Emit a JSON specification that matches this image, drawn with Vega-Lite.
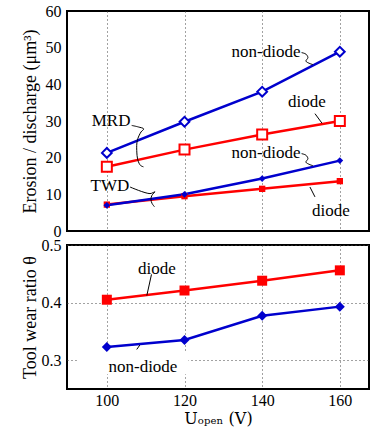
{
  "$schema": "https://vega.github.io/schema/vega-lite/v6.json",
  "background": "white",
  "padding": {"left": 19, "top": 2, "right": 0, "bottom": 0},
  "spacing": 14,
  "bounds": "flush",
  "resolve": {"scale": {"color": "independent"}},
  "config": {
    "font": "Times New Roman",
    "view": {"stroke": "black", "strokeWidth": 2},
    "text": {"font": "Times New Roman"},
    "axis": {
      "labelFont": "Times New Roman", "labelFontSize": 16, "labelColor": "black", "labelOverlap": false,
      "titleFont": "Times New Roman", "titleFontSize": 18, "titleFontWeight": "normal", "titleColor": "black",
      "ticks": false, "domain": false,
      "gridColor": "#444", "gridDash": [1, 3], "gridWidth": 1, "gridOpacity": 1
    }
  },
  "datasets": {
    "top": [
      {"U": 100, "value": 21.3, "series": "MRD non-diode"},
      {"U": 120, "value": 29.8, "series": "MRD non-diode"},
      {"U": 140, "value": 38.0, "series": "MRD non-diode"},
      {"U": 160, "value": 48.9, "series": "MRD non-diode"},
      {"U": 100, "value": 17.5, "series": "MRD diode"},
      {"U": 120, "value": 22.2, "series": "MRD diode"},
      {"U": 140, "value": 26.3, "series": "MRD diode"},
      {"U": 160, "value": 30.0, "series": "MRD diode"},
      {"U": 100, "value": 7.2, "series": "TWD diode"},
      {"U": 120, "value": 9.5, "series": "TWD diode"},
      {"U": 140, "value": 11.5, "series": "TWD diode"},
      {"U": 160, "value": 13.6, "series": "TWD diode"},
      {"U": 100, "value": 7.0, "series": "TWD non-diode"},
      {"U": 120, "value": 10.0, "series": "TWD non-diode"},
      {"U": 140, "value": 14.3, "series": "TWD non-diode"},
      {"U": 160, "value": 19.2, "series": "TWD non-diode"}
    ],
    "bottom": [
      {"U": 100, "theta": 0.405, "series": "diode"},
      {"U": 120, "theta": 0.421, "series": "diode"},
      {"U": 140, "theta": 0.438, "series": "diode"},
      {"U": 160, "theta": 0.456, "series": "diode"},
      {"U": 100, "theta": 0.323, "series": "non-diode"},
      {"U": 120, "theta": 0.335, "series": "non-diode"},
      {"U": 140, "theta": 0.377, "series": "non-diode"},
      {"U": 160, "theta": 0.393, "series": "non-diode"}
    ],
    "topLabels": [
      {"x": 141, "y": 48.7, "label": "non-diode"},
      {"x": 151.5, "y": 35.3, "label": "diode"},
      {"x": 141, "y": 21.4, "label": "non-diode"},
      {"x": 157.7, "y": 5.5, "label": "diode"},
      {"x": 101.1, "y": 30.1, "label": "MRD"},
      {"x": 100.8, "y": 12.3, "label": "TWD"}
    ],
    "topLeaders": [
      {"id": "A", "i": 0, "x": 150.15, "y": 48.65},
      {"id": "A", "i": 1, "x": 151.26, "y": 48.24},
      {"id": "A", "i": 2, "x": 151.78, "y": 47.29},
      {"id": "A", "i": 3, "x": 151.26, "y": 46.34},
      {"id": "A", "i": 4, "x": 152.29, "y": 45.66},
      {"id": "A", "i": 5, "x": 153.06, "y": 45.39},
      {"id": "B", "i": 0, "x": 153.6, "y": 32.0},
      {"id": "B", "i": 1, "x": 155.4, "y": 29.4},
      {"id": "C", "i": 0, "x": 150.15, "y": 21.09},
      {"id": "C", "i": 1, "x": 151.26, "y": 20.68},
      {"id": "C", "i": 2, "x": 151.78, "y": 19.73},
      {"id": "C", "i": 3, "x": 151.26, "y": 18.78},
      {"id": "C", "i": 4, "x": 152.29, "y": 18.10},
      {"id": "C", "i": 5, "x": 153.06, "y": 17.82},
      {"id": "D", "i": 0, "x": 152.3, "y": 12.0},
      {"id": "D", "i": 1, "x": 153.6, "y": 9.3},
      {"id": "E", "i": 0, "x": 106.40, "y": 28.79},
      {"id": "E", "i": 1, "x": 108.10, "y": 28.38},
      {"id": "E", "i": 2, "x": 109.50, "y": 27.84},
      {"id": "E", "i": 3, "x": 108.79, "y": 27.00},
      {"id": "E", "i": 4, "x": 107.85, "y": 24.71},
      {"id": "E", "i": 5, "x": 107.70, "y": 21.99},
      {"id": "E", "i": 6, "x": 108.01, "y": 19.27},
      {"id": "E", "i": 7, "x": 108.66, "y": 17.90},
      {"id": "E", "i": 8, "x": 109.43, "y": 17.50},
      {"id": "F", "i": 0, "x": 105.96, "y": 12.0},
      {"id": "F", "i": 1, "x": 111.11, "y": 10.20},
      {"id": "F", "i": 2, "x": 112.39, "y": 10.69},
      {"id": "F", "i": 3, "x": 111.62, "y": 9.74},
      {"id": "F", "i": 4, "x": 111.36, "y": 8.65},
      {"id": "F", "i": 5, "x": 111.62, "y": 7.56},
      {"id": "F", "i": 6, "x": 112.27, "y": 6.61}
    ],
    "bottomLabels": [
      {"x": 112.9, "y": 0.459, "label": "diode"},
      {"x": 109.3, "y": 0.288, "label": "non-diode"}
    ],
    "bottomLeaders": [
      {"id": "G", "i": 0, "x": 111.5, "y": 0.449},
      {"id": "G", "i": 1, "x": 110.3, "y": 0.4123},
      {"id": "H", "i": 0, "x": 107.7, "y": 0.3187},
      {"id": "H", "i": 1, "x": 108.5, "y": 0.3263}
    ],
    "bottomMask": [
      {"x": 92.3, "x2": 121.0, "y": 0.2756, "y2": 0.314}
    ]
  },
  "vconcat": [
    {
      "width": 302,
      "height": 220,
      "layer": [
        {
          "data": {"name": "top"},
          "mark": {"type": "line", "strokeWidth": 2.5},
          "encoding": {
            "x": {"field": "U", "type": "quantitative", "scale": {"domain": [89.74, 167.51], "nice": false, "zero": false},
                  "axis": {"values": [100, 120, 140, 160], "tickCount": 10, "labels": false, "title": null, "grid": true}},
            "y": {"field": "value", "type": "quantitative", "scale": {"domain": [0, 60], "nice": false},
                  "axis": {"values": [0, 10, 20, 30, 40, 50, 60], "tickCount": 10, "labelOverlap": false, "grid": false, "labelPadding": 6, "minExtent": 26, "maxExtent": 26, "titlePadding": 2,
                           "title": "Erosion / discharge (μm³)"}},
            "color": {"field": "series", "type": "nominal", "legend": null,
                      "scale": {"domain": ["MRD non-diode", "MRD diode", "TWD diode", "TWD non-diode"], "range": ["#0000cd", "#ff0000", "#ff0000", "#0000cd"]}},
            "detail": {"field": "series"},
            "order": {"field": "U"}
          }
        },
        {
          "data": {"name": "top"},
          "transform": [{"filter": "datum.series == 'MRD non-diode'"}],
          "mark": {"type": "point", "shape": "diamond", "size": 95, "filled": false, "fill": "white", "fillOpacity": 1, "stroke": "#0000cd", "strokeWidth": 2, "opacity": 1},
          "encoding": {"x": {"field": "U", "type": "quantitative"}, "y": {"field": "value", "type": "quantitative"}}
        },
        {
          "data": {"name": "top"},
          "transform": [{"filter": "datum.series == 'MRD diode'"}],
          "mark": {"type": "point", "shape": "square", "size": 100, "filled": false, "fill": "white", "fillOpacity": 1, "stroke": "#ff0000", "strokeWidth": 2, "opacity": 1},
          "encoding": {"x": {"field": "U", "type": "quantitative"}, "y": {"field": "value", "type": "quantitative"}}
        },
        {
          "data": {"name": "top"},
          "transform": [{"filter": "datum.series == 'TWD diode'"}],
          "mark": {"type": "point", "shape": "square", "size": 40, "filled": true, "color": "#ff0000", "opacity": 1},
          "encoding": {"x": {"field": "U", "type": "quantitative"}, "y": {"field": "value", "type": "quantitative"}}
        },
        {
          "data": {"name": "top"},
          "transform": [{"filter": "datum.series == 'TWD non-diode'"}],
          "mark": {"type": "point", "shape": "diamond", "size": 45, "filled": true, "color": "#0000cd", "opacity": 1},
          "encoding": {"x": {"field": "U", "type": "quantitative"}, "y": {"field": "value", "type": "quantitative"}}
        },
        {
          "data": {"name": "topLeaders"},
          "mark": {"type": "line", "color": "black", "strokeWidth": 1, "interpolate": "catmull-rom"},
          "encoding": {
            "x": {"field": "x", "type": "quantitative"},
            "y": {"field": "y", "type": "quantitative"},
            "detail": {"field": "id"},
            "order": {"field": "i"}
          }
        },
        {
          "data": {"name": "topLabels"},
          "mark": {"type": "text", "font": "Times New Roman", "fontSize": 17, "color": "black", "align": "center", "baseline": "middle"},
          "encoding": {
            "x": {"field": "x", "type": "quantitative"},
            "y": {"field": "y", "type": "quantitative"},
            "text": {"field": "label"}
          }
        }
      ]
    },
    {
      "width": 302,
      "height": 144,
      "layer": [
        {
          "data": {"name": "bottomMask"},
          "mark": {"type": "rect", "color": "white", "opacity": 1},
          "encoding": {
            "x": {"field": "x", "type": "quantitative"},
            "x2": {"field": "x2"},
            "y": {"field": "y", "type": "quantitative"},
            "y2": {"field": "y2"}
          }
        },
        {
          "data": {"name": "bottom"},
          "mark": {"type": "line", "strokeWidth": 2.5},
          "encoding": {
            "x": {"field": "U", "type": "quantitative", "scale": {"domain": [89.74, 167.51], "nice": false, "zero": false},
                  "axis": {"values": [100, 120, 140, 160], "tickCount": 10, "grid": true, "labelPadding": 3, "titlePadding": 2, "title": "Uₒₚₑₙ (V)", "titleFont": "DejaVu Serif", "titleFontSize": 16}},
            "y": {"field": "theta", "type": "quantitative", "scale": {"domain": [0.25, 0.5], "nice": false, "zero": false},
                  "axis": {"values": [0.3, 0.4, 0.5], "tickCount": 10, "format": ".1f", "labelOverlap": false, "grid": true, "labelPadding": 6, "minExtent": 26, "maxExtent": 26, "titlePadding": 2,
                           "title": "Tool wear ratio θ"}},
            "color": {"field": "series", "type": "nominal", "legend": null,
                      "scale": {"domain": ["diode", "non-diode"], "range": ["#ff0000", "#0000cd"]}},
            "order": {"field": "U"}
          }
        },
        {
          "data": {"name": "bottom"},
          "transform": [{"filter": "datum.series == 'diode'"}],
          "mark": {"type": "point", "shape": "square", "size": 100, "filled": true, "color": "#ff0000", "opacity": 1},
          "encoding": {"x": {"field": "U", "type": "quantitative"}, "y": {"field": "theta", "type": "quantitative"}}
        },
        {
          "data": {"name": "bottom"},
          "transform": [{"filter": "datum.series == 'non-diode'"}],
          "mark": {"type": "point", "shape": "diamond", "size": 100, "filled": true, "color": "#0000cd", "opacity": 1},
          "encoding": {"x": {"field": "U", "type": "quantitative"}, "y": {"field": "theta", "type": "quantitative"}}
        },
        {
          "data": {"name": "bottomLeaders"},
          "mark": {"type": "line", "color": "black", "strokeWidth": 1},
          "encoding": {
            "x": {"field": "x", "type": "quantitative"},
            "y": {"field": "y", "type": "quantitative"},
            "detail": {"field": "id"},
            "order": {"field": "i"}
          }
        },
        {
          "data": {"name": "bottomLabels"},
          "mark": {"type": "text", "font": "Times New Roman", "fontSize": 17, "color": "black", "align": "center", "baseline": "middle"},
          "encoding": {
            "x": {"field": "x", "type": "quantitative"},
            "y": {"field": "y", "type": "quantitative"},
            "text": {"field": "label"}
          }
        }
      ]
    }
  ]
}
